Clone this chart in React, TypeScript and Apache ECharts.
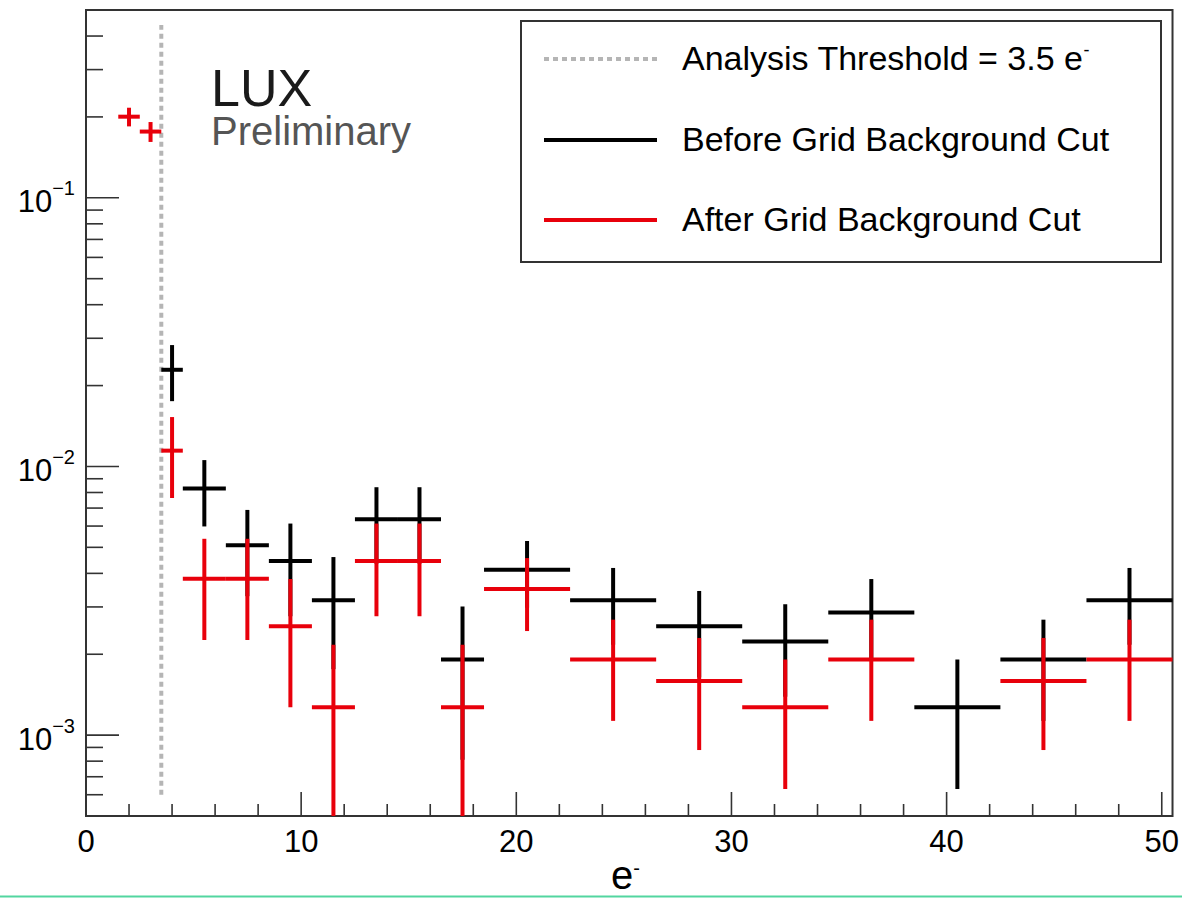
import React, { useEffect, useRef } from "react";
import * as echarts from "echarts";

// ---- data ----
const binEdges = [1.5, 2.5, 3.5, 4.5, 6.5, 8.5, 10.5, 12.5, 14.5, 16.5, 18.5, 22.5, 26.5, 30.5, 34.5, 38.5, 42.5, 46.5, 50.5];
const beforeValues = [null, null, 0.0229, 0.00827, 0.00509, 0.00445, 0.00318, 0.00636, 0.00636, 0.00191, 0.00413, 0.00318, 0.00254, 0.00223, 0.00286, 0.00127, 0.00191, 0.00318];
const beforeErrors = [null, null, 0.0054, 0.00229, 0.0018, 0.00168, 0.00142, 0.00201, 0.00201, 0.0011, 0.00115, 0.00101, 0.0009, 0.00084, 0.00095, 0.00064, 0.00078, 0.00101];
const afterValues = [0.2004, 0.1764, 0.01145, 0.00382, 0.00382, 0.00254, 0.00127, 0.00445, 0.00445, 0.00127, 0.0035, 0.00191, 0.00159, 0.00127, 0.00191, null, 0.00159, 0.00191];
const afterErrors = [0.016, 0.015, 0.00382, 0.00156, 0.00156, 0.00127, 0.0009, 0.00168, 0.00168, 0.0009, 0.00106, 0.00078, 0.00071, 0.00064, 0.00078, null, 0.00071, 0.00078];
const thresholdX = 3.5;
const thresholdSpan = [0.0006, 0.44];
const xTickLabels = [0, 10, 20, 30, 40, 50];
const yDecades = [0.0001, 0.001, 0.01, 0.1];

const X_MIN = 0;
const X_MAX = 50.5;
const Y_MIN = 0.0005;
const Y_MAX = 0.5;

const FONT = "'Liberation Sans', Arial, Helvetica, sans-serif";

function buildBars(values: (number | null)[], errors: (number | null)[]) {
  const out: number[][] = [];
  values.forEach((v, i) => {
    if (v == null) return;
    const lo = binEdges[i];
    const hi = binEdges[i + 1];
    out.push([(lo + hi) / 2, v, lo, hi, errors[i] as number]);
  });
  return out;
}

function buildTicks() {
  const t: number[][] = [];
  // x ticks: [x, y, kind] kind 0 = x major, 1 = x minor
  for (let x = 0; x <= 50; x += 2) {
    t.push([x, Y_MIN, xTickLabels.includes(x) ? 0 : 1]);
  }
  // y ticks: kind 2 = y major, 3 = y minor
  yDecades.forEach((d) => {
    for (let m = 1; m <= 9; m++) {
      const v = m * d;
      if (v <= Y_MIN * 1.0001 || v >= Y_MAX * 0.9999) continue;
      t.push([X_MIN, v, m === 1 ? 2 : 3]);
    }
  });
  return t;
}

function errorBarRender(color: string) {
  return (params: any, api: any) => {
    const xc = api.value(0);
    const v = api.value(1);
    const lo = api.value(2);
    const hi = api.value(3);
    const e = api.value(4);
    const left = api.coord([lo, v]);
    const right = api.coord([hi, v]);
    const top = api.coord([xc, Math.min(v + e, Y_MAX)]);
    const bottom = api.coord([xc, Math.max(v - e, Y_MIN)]);
    const style = { stroke: color, lineWidth: 4, lineCap: "butt" };
    return {
      type: "group",
      children: [
        { type: "line", shape: { x1: top[0], y1: top[1], x2: bottom[0], y2: bottom[1] }, style },
        { type: "line", shape: { x1: left[0], y1: left[1], x2: right[0], y2: right[1] }, style },
      ],
    };
  };
}

function tickRender(params: any, api: any) {
  const x = api.value(0);
  const y = api.value(1);
  const kind = api.value(2);
  const p = api.coord([x, y]);
  const style = { stroke: "#333", lineWidth: 1.6 };
  if (kind === 0 || kind === 1) {
    const len = kind === 0 ? 24 : 12;
    return { type: "line", shape: { x1: p[0], y1: p[1], x2: p[0], y2: p[1] - len }, style };
  }
  const len = kind === 2 ? 33 : 17;
  return { type: "line", shape: { x1: p[0], y1: p[1], x2: p[0] + len, y2: p[1] }, style };
}

export default function App() {
  const ref = useRef<HTMLDivElement>(null);
  useEffect(() => {
    if (!ref.current) return;
    const chart = echarts.init(ref.current, undefined, { renderer: "svg" });
    const legendX = 521;
    const legendY = 21;
    chart.setOption({
      animation: false,
      backgroundColor: "#ffffff",
      grid: {
        left: 86,
        top: 10,
        width: 1088,
        height: 806,
        show: true,
        borderColor: "#333",
        borderWidth: 2,
        backgroundColor: "transparent",
      },
      xAxis: {
        type: "value",
        min: X_MIN,
        max: X_MAX,
        interval: 10,
        axisLine: { show: false },
        axisTick: { show: false },
        splitLine: { show: false },
        axisLabel: {
          fontSize: 31,
          fontFamily: FONT,
          color: "#000",
          margin: 10,
          formatter: (v: number) => (xTickLabels.includes(v) ? String(v) : ""),
        },
      },
      yAxis: {
        type: "log",
        logBase: 10,
        min: Y_MIN,
        max: Y_MAX,
        axisLine: { show: false },
        axisTick: { show: false },
        splitLine: { show: false },
        minorTick: { show: false },
        axisLabel: {
          margin: 11,
          formatter: (v: number) => {
            const e = Math.log10(v);
            const r = Math.round(e);
            if (Math.abs(e - r) > 1e-6) return "";
            return `{b|10}{s|\u2212${-r}}`;
          },
          rich: {
            b: { fontSize: 31, fontFamily: FONT, color: "#000", padding: [8, 0, 0, 0] },
            s: { fontSize: 20, fontFamily: FONT, color: "#000", verticalAlign: "top" },
          },
        },
      },
      series: [
        {
          type: "line",
          name: "threshold",
          data: [
            [thresholdX, thresholdSpan[0]],
            [thresholdX, thresholdSpan[1]],
          ],
          symbol: "none",
          lineStyle: { color: "#b5b5b5", width: 4, type: [5, 4], cap: "butt" },
          z: 1,
          silent: true,
        },
        {
          type: "custom",
          name: "Before Grid Background Cut",
          renderItem: errorBarRender("#000000"),
          data: buildBars(beforeValues, beforeErrors),
          encode: { x: [0, 2, 3], y: 1 },
          clip: false,
          z: 2,
        },
        {
          type: "custom",
          name: "After Grid Background Cut",
          renderItem: errorBarRender("#e8000b"),
          data: buildBars(afterValues, afterErrors),
          encode: { x: [0, 2, 3], y: 1 },
          clip: false,
          z: 3,
        },
        {
          type: "custom",
          name: "ticks",
          renderItem: tickRender,
          data: buildTicks(),
          encode: { x: 0, y: 1 },
          clip: false,
          z: 4,
          silent: true,
        },
      ],
      graphic: [
        {
          type: "text",
          x: 211,
          y: 88,
          z: 10,
          style: { text: "LUX", font: `52px ${FONT}`, fill: "#1a1a1a", verticalAlign: "middle", lineHeight: 42 },
        },
        {
          type: "text",
          x: 211,
          y: 131,
          z: 10,
          style: { text: "Preliminary", font: `40px ${FONT}`, fill: "#555555", verticalAlign: "middle", lineHeight: 34 },
        },
        {
          type: "group",
          z: 10,
          children: [
            {
              type: "rect",
              shape: { x: legendX, y: legendY, width: 640, height: 241 },
              style: { fill: "#fff", stroke: "#333", lineWidth: 2 },
            },
            {
              type: "line",
              shape: { x1: 544, y1: 59, x2: 657, y2: 59 },
              style: { stroke: "#b5b5b5", lineWidth: 4, lineDash: [5, 4] },
            },
            {
              type: "text",
              x: 682,
              y: 58,
              style: {
                text: "{a|Analysis Threshold = 3.5 e}{s|-}",
                verticalAlign: "middle",
                rich: {
                  a: { fontSize: 34, fontFamily: FONT, fill: "#000" },
                  s: { fontSize: 18, fontFamily: FONT, fill: "#000", verticalAlign: "top" },
                },
              },
            },
            {
              type: "line",
              shape: { x1: 544, y1: 140, x2: 657, y2: 140 },
              style: { stroke: "#000", lineWidth: 4 },
            },
            {
              type: "text",
              x: 682,
              y: 139,
              style: { text: "Before Grid Background Cut", font: `34px ${FONT}`, fill: "#000", verticalAlign: "middle" },
            },
            {
              type: "line",
              shape: { x1: 544, y1: 220, x2: 657, y2: 220 },
              style: { stroke: "#e8000b", lineWidth: 4 },
            },
            {
              type: "text",
              x: 682,
              y: 219,
              style: { text: "After Grid Background Cut", font: `34px ${FONT}`, fill: "#000", verticalAlign: "middle" },
            },
          ],
        },
        {
          type: "text",
          x: 611,
          y: 875,
          z: 10,
          style: {
            text: "{a|e}{s|-}",
            verticalAlign: "middle",
            rich: {
              a: { fontSize: 40, fontFamily: FONT, fill: "#000", lineHeight: 34 },
              s: { fontSize: 20, fontFamily: FONT, fill: "#000", verticalAlign: "top", lineHeight: 20 },
            },
          },
        },
        {
          type: "line",
          z: 12,
          shape: { x1: 0, y1: 896.5, x2: 1182, y2: 896.5 },
          style: { stroke: "#52d6a0", lineWidth: 2 },
        },
      ],
    });
    return () => chart.dispose();
  }, []);
  return (
    <div
      ref={ref}
      style={{ position: "fixed", left: 0, top: 0, width: 1182, height: 899, background: "#fff" }}
    />
  );
}
